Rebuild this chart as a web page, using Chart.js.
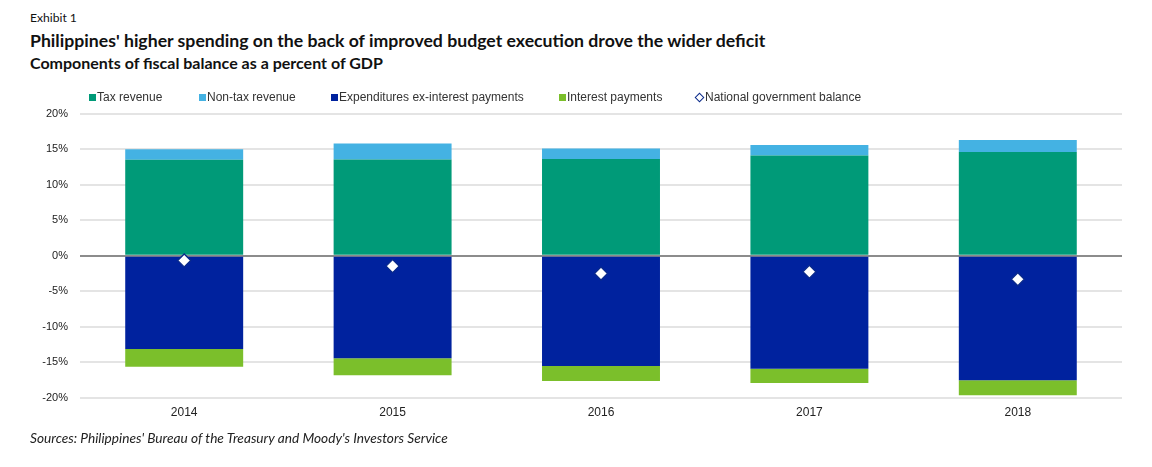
<!DOCTYPE html>
<html>
<head>
<meta charset="utf-8">
<script src="https://cdn.jsdelivr.net/npm/chart.js@4.4.0/dist/chart.umd.min.js"></script>
<style>
  html, body { margin:0; padding:0; background:#fff; }
  body { width:1152px; height:467px; position:relative; overflow:hidden; font-family:"Liberation Sans", Arial, sans-serif; }
  .t { position:absolute; left:30px; white-space:nowrap; color:#111; font-family:Lato, "Open Sans", sans-serif; }
  #exhibit { top:10px; font-size:13px; }
  #title { top:30px; font-size:19px; font-weight:bold; }
  #subtitle { top:53px; font-size:15px; font-weight:bold; }
  #sources { top:429px; font-size:13px; font-style:italic; color:#222; }
  #legend { position:absolute; top:90px; left:0; height:16px; font-size:12px; color:#333; z-index:2; }
  .li { position:absolute; top:0; white-space:nowrap; line-height:14px; }
  .mk { position:absolute; top:4px; width:7px; height:7px; }
  .dm { position:absolute; top:3.5px; width:5px; height:5px; border:1.3px solid #0a2a8a; background:#fff; transform:rotate(45deg); }
  #wrap { position:absolute; left:0; top:95px; width:1152px; height:335px; }
</style>
</head>
<body>
<div class="t" id="exhibit">Exhibit 1</div>
<div class="t" id="title">Philippines' higher spending on the back of improved budget execution drove the wider deficit</div>
<div class="t" id="subtitle">Components of fiscal balance as a percent of GDP</div>
<div id="wrap"><canvas id="c" width="1152" height="335"></canvas></div>
<div id="legend"></div>
<div class="t" id="sources">Sources: Philippines' Bureau of the Treasury and Moody's Investors Service</div>
<script>
const categories = ['2014', '2015', '2016', '2017', '2018'];
const taxRevenue = [13.5, 13.55, 13.6, 14.1, 14.6];
const nonTaxRevenue = [1.5, 2.25, 1.5, 1.5, 1.7];
const expendituresExInterest = [-13.1, -14.4, -15.5, -15.9, -17.5];
const interestPayments = [-2.5, -2.4, -2.1, -2.0, -2.1];
const nationalBalance = [-0.65, -1.45, -2.5, -2.25, -3.3];
const yTicks = [20, 15, 10, 5, 0, -5, -10, -15, -20];
const seriesNames = ['Tax revenue', 'Non-tax revenue', 'Expenditures ex-interest payments', 'Interest payments', 'National government balance'];

const colors = {
  tax: '#009a78',
  nontax: '#44b2e3',
  exp: '#00229e',
  interest: '#7bbf2b',
  diamondBorder: '#0a2a8a'
};

function fit(id, target) {
  const el = document.getElementById(id);
  const fs = parseFloat(getComputedStyle(el).fontSize);
  const w = el.getBoundingClientRect().width;
  el.style.fontSize = (fs * target / w) + 'px';
}
fit('exhibit', 47);
fit('title', 736);
fit('subtitle', 353);
fit('sources', 418);

const legendItems = [
  {name: seriesNames[0], color: colors.tax, mx: 89, tx: 97},
  {name: seriesNames[1], color: colors.nontax, mx: 199, tx: 207},
  {name: seriesNames[2], color: colors.exp, mx: 331, tx: 339},
  {name: seriesNames[3], color: colors.interest, mx: 559, tx: 567},
  {name: seriesNames[4], color: null, mx: 697, tx: 705}
];
const lg = document.getElementById('legend');
legendItems.forEach(it => {
  const m = document.createElement('div');
  if (it.color) { m.className = 'mk'; m.style.background = it.color; m.style.left = it.mx + 'px'; }
  else { m.className = 'dm'; m.style.left = (it.mx - 1) + 'px'; }
  lg.appendChild(m);
  const s = document.createElement('div');
  s.className = 'li'; s.style.left = it.tx + 'px'; s.textContent = it.name;
  lg.appendChild(s);
});

const barCommon = { type: 'bar', barPercentage: 1, categoryPercentage: 0.566, order: 2, borderWidth: 0, stack: 's' };

new Chart(document.getElementById('c'), {
  data: {
    labels: categories,
    datasets: [
      Object.assign({}, barCommon, { label: seriesNames[0], data: taxRevenue, backgroundColor: colors.tax }),
      Object.assign({}, barCommon, { label: seriesNames[1], data: nonTaxRevenue, backgroundColor: colors.nontax }),
      Object.assign({}, barCommon, { label: seriesNames[2], data: expendituresExInterest, backgroundColor: colors.exp }),
      Object.assign({}, barCommon, { label: seriesNames[3], data: interestPayments, backgroundColor: colors.interest }),
      { type: 'line', label: seriesNames[4], data: nationalBalance, showLine: false, stack: 'bal', order: 0,
        pointStyle: 'rectRot', pointRadius: 6.5, pointBackgroundColor: '#ffffff', pointBorderColor: colors.diamondBorder,
        pointBorderWidth: 1.3 }
    ]
  },
  options: {
    responsive: false,
    animation: false,
    events: [],
    layout: { padding: { left: 0, right: 30, top: 0, bottom: 0 } },
    plugins: { legend: { display: false }, tooltip: { enabled: false } },
    scales: {
      x: {
        stacked: true,
        grid: { display: false, drawTicks: false },
        border: { display: false },
        ticks: { color: '#222', font: { family: 'Liberation Sans', size: 12 }, padding: 7 },
        afterFit: s => { s.height = 32; }
      },
      y: {
        stacked: true,
        min: -20, max: 20,
        afterBuildTicks: s => { s.ticks = yTicks.map(v => ({ value: v })); },
        grid: {
          drawTicks: false,
          lineWidth: 2,
          color: ctx => (ctx.tick && ctx.tick.value === 0) ? '#8c8c8c' : '#e4e4e4'
        },
        border: { display: false },
        ticks: { color: '#222', font: { family: 'Liberation Sans', size: 11 }, padding: 12,
          callback: v => v + '%' },
        afterFit: s => { s.width = 80; }
      }
    }
  }
});
</script>
</body>
</html>
